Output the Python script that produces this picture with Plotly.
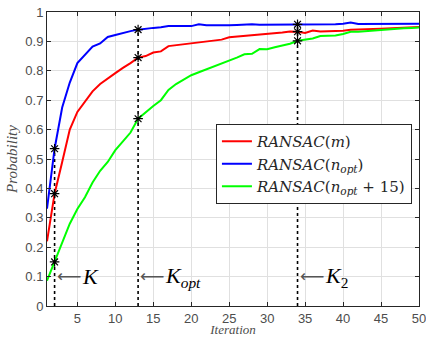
import plotly.graph_objects as go

iterations = list(range(1, 51))
ransac_m = [0.22, 0.382, 0.49, 0.60, 0.66, 0.695, 0.73, 0.755, 0.775, 0.792,
            0.81, 0.826, 0.845, 0.85, 0.862, 0.866, 0.884, 0.887, 0.89, 0.895,
            0.898, 0.90, 0.903, 0.906, 0.914, 0.916, 0.919, 0.921, 0.924, 0.926,
            0.927, 0.93, 0.934, 0.933, 0.929, 0.937, 0.934, 0.934, 0.935, 0.936,
            0.94, 0.94, 0.941, 0.942, 0.943, 0.944, 0.945, 0.946, 0.948, 0.949]
ransac_nopt = [0.331, 0.535, 0.675, 0.76, 0.826, 0.855, 0.882, 0.893, 0.915, 0.922,
               0.929, 0.935, 0.94, 0.944, 0.946, 0.948, 0.952, 0.952, 0.952, 0.952,
               0.958, 0.955, 0.955, 0.954, 0.955, 0.956, 0.958, 0.958, 0.957, 0.957,
               0.958, 0.958, 0.957, 0.958, 0.958, 0.958, 0.957, 0.958, 0.958, 0.96,
               0.964, 0.959, 0.959, 0.96, 0.96, 0.961, 0.961, 0.961, 0.96, 0.96]
ransac_nopt15 = [0.086, 0.15, 0.22, 0.28, 0.33, 0.37, 0.42, 0.46, 0.49, 0.53,
                 0.56, 0.59, 0.637, 0.66, 0.68, 0.70, 0.735, 0.755, 0.77, 0.785,
                 0.795, 0.805, 0.815, 0.823, 0.833, 0.845, 0.856, 0.858, 0.874, 0.873,
                 0.88, 0.885, 0.892, 0.902, 0.905, 0.91, 0.918, 0.918, 0.92, 0.925,
                 0.933, 0.933, 0.935, 0.938, 0.94, 0.943, 0.944, 0.945, 0.946, 0.947]
series_names = ["<i>RANSAC</i>(<i>m</i>)",
                "<i>RANSAC</i>(<i>n</i><sub><i>opt</i></sub>)",
                "<i>RANSAC</i>(<i>n</i><sub><i>opt</i></sub> + 15)"]
series_colors = ["#ff0000", "#0000ff", "#00ff00"]
marked_iters = [2, 13, 34]
marked_labels = ["<i>K</i>", "<i>K</i><sub><i>opt</i></sub>", "<i>K</i><sub>2</sub>"]
x_ticks = [5, 10, 15, 20, 25, 30, 35, 40, 45, 50]
y_ticks = [0, 0.1, 0.2, 0.3, 0.4, 0.5, 0.6, 0.7, 0.8, 0.9, 1]
y_tick_text = ["0", "0.1", "0.2", "0.3", "0.4", "0.5", "0.6", "0.7", "0.8", "0.9", "1"]

serif = "DejaVu Serif"
fig = go.Figure()

# dotted verticals
for k in marked_iters:
    top = ransac_nopt[k - 1]
    fig.add_trace(go.Scatter(x=[k, k], y=[0, top], mode="lines",
                             line=dict(color="black", width=1.6, dash="dot"),
                             showlegend=False, hoverinfo="skip"))

for vals, name, col in zip([ransac_m, ransac_nopt, ransac_nopt15], series_names, series_colors):
    fig.add_trace(go.Scatter(x=iterations, y=vals, mode="lines", name=name,
                             line=dict(color=col, width=2)))

# stars
sx, sy = [], []
for k in marked_iters:
    for vals in [ransac_m, ransac_nopt, ransac_nopt15]:
        sx.append(k)
        sy.append(vals[k - 1])
fig.add_trace(go.Scatter(x=sx, y=sy, mode="markers", showlegend=False,
                         marker=dict(symbol="asterisk-open", size=8, color="black",
                                     line=dict(color="black", width=1.2))))

for k, lab in zip(marked_iters, marked_labels):
    fig.add_annotation(x=k, y=0.1, xref="x", yref="y", text="⟵", showarrow=False,
                       xanchor="left", yanchor="middle", xshift=0, yshift=1,
                       font=dict(family="DejaVu Sans", size=17, color="#555555"))
    fig.add_annotation(x=k, y=0.1, xref="x", yref="y", text=lab, showarrow=False,
                       xanchor="left", yanchor="middle", xshift=25, yshift=0,
                       font=dict(family="Liberation Serif", size=22, color="black"))

axis_common = dict(showline=True, linecolor="#262626", linewidth=1, mirror="ticks",
                   ticks="inside", ticklen=4, tickcolor="#262626", automargin=False,
                   showgrid=True, gridcolor="#e0e0e0", gridwidth=1, zeroline=False,
                   ticklabeloverflow="allow",
                   tickfont=dict(family="Liberation Sans", size=13, color="#4d4d4d"))

fig.update_xaxes(range=[1, 50], tickvals=x_ticks,
                 title=dict(text="<i>Iteration</i>", standoff=9,
                            font=dict(family="Liberation Serif", size=13, color="#4d4d4d")),
                 **axis_common)
fig.update_yaxes(range=[0, 1], tickvals=y_ticks, ticktext=y_tick_text,
                 title=dict(text="<i>Probability</i>", standoff=4,
                            font=dict(family="Liberation Serif", size=15, color="#4d4d4d")),
                 **axis_common)

fig.update_layout(
    width=426, height=337,
    margin=dict(l=47, r=7, t=12, b=31),
    paper_bgcolor="white", plot_bgcolor="white",
    legend=dict(x=0.981, y=0.619, xanchor="right", yanchor="top",
                bgcolor="white", bordercolor="#262626", borderwidth=1,
                font=dict(family=serif, size=15, color="#262626"),
                tracegroupgap=0, itemwidth=30),
    showlegend=True,
)

fig.write_html("out.html", config={"displayModeBar": False},
               post_script="document.body.style.margin='0';document.body.style.overflow='hidden';")
